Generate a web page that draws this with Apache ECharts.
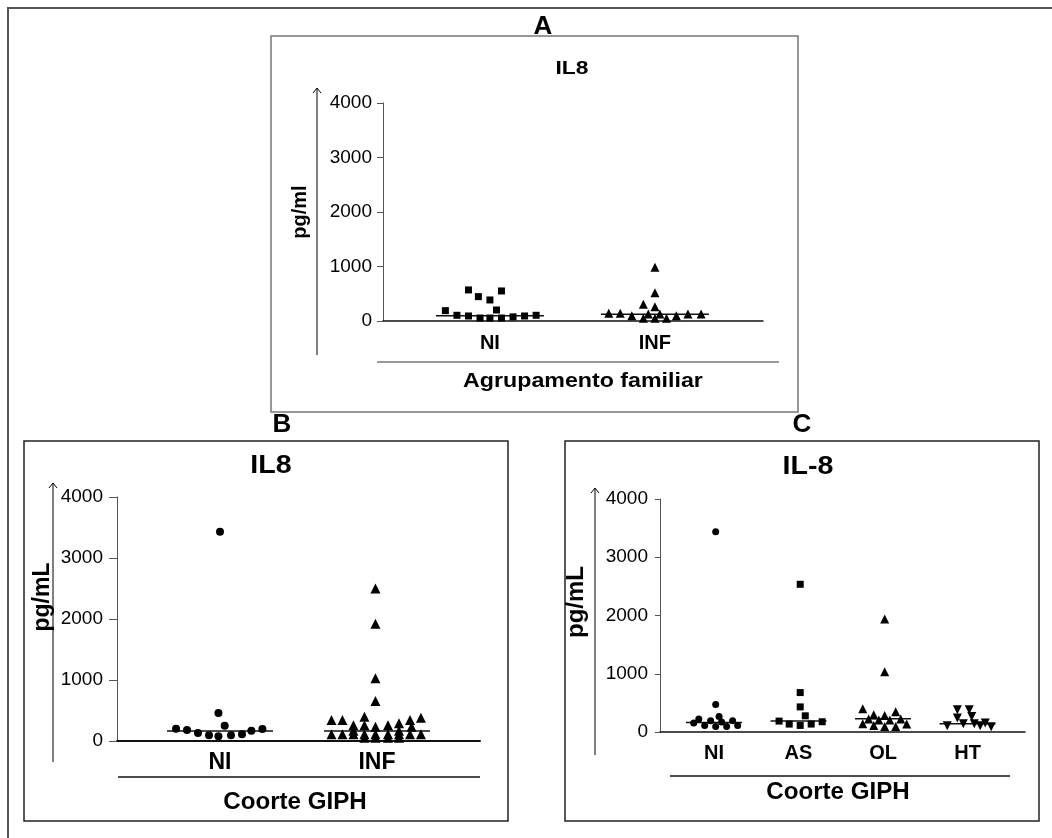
<!DOCTYPE html>
<html>
<head>
<meta charset="utf-8">
<script src="https://cdn.jsdelivr.net/npm/echarts@6/dist/echarts.min.js"></script>
<style>
html, body { margin: 0; padding: 0; background: #fff; }
#chart { width: 1052px; height: 838px; }
</style>
</head>
<body>
<div id="chart"></div>
<script>
// ---- data (IL8, pg/mL) ----
// jitter = horizontal spread of each point around its category (category units)
var yTicks = [0, 1000, 2000, 3000, 4000];

// A: Agrupamento familiar
var catsA = ['NI', 'INF'];
var aNiVal    = [190, 105, 92, 55, 55, 55, 76, 92, 105, 570, 447, 386, 551, 202];
var aNiJit    = [-0.27, -0.2, -0.13, -0.06, 0.0, 0.07, 0.14, 0.21, 0.28, -0.13, -0.07, 0.0, 0.07, 0.04];
var aInfVal   = [141, 141, 98, 307, 987, 520, 263, 50, 129, 50, 129, 50, 98, 129, 129];
var aInfJit   = [-0.28, -0.21, -0.14, -0.07, 0.0, 0.0, 0.0, -0.07, -0.04, 0.0, 0.03, 0.07, 0.13, 0.2, 0.28];
var aMedian   = [95, 125];

// B: Coorte GIPH
var catsB = ['NI', 'INF'];
var bNiVal    = [202, 180, 131, 93, 77, 93, 109, 169, 197, 459, 251, 3430];
var bNiJit    = [-0.28, -0.21, -0.14, -0.07, -0.01, 0.07, 0.14, 0.2, 0.27, -0.01, 0.03, 0.0];
var bInfVal   = [2500, 1923, 1028, 656, 235, 344, 344, 257, 398, 257, 257, 290, 344, 382, 235,
                 109, 109, 109, 109, 109, 109, 109, 109, 109, 55, 55, 55, 55, 170, 170];
var bInfJit   = [-0.01, -0.01, -0.01, -0.01, -0.01, -0.29, -0.22, -0.15, -0.08, -0.08, 0.07, 0.14, 0.21, 0.28, 0.22,
                 -0.29, -0.22, -0.15, -0.08, -0.01, 0.07, 0.14, 0.21, 0.28, -0.08, -0.01, 0.07, 0.14, -0.15, 0.14];
var bMedian   = [164, 164];

// C: Coorte GIPH by group
var catsC = ['NI', 'AS', 'OL', 'HT'];
var cNiVal    = [153, 222, 113, 193, 96, 266, 171, 96, 193, 113, 471, 3436];
var cNiJit    = [-0.24, -0.18, -0.11, -0.04, 0.02, 0.06, 0.09, 0.15, 0.22, 0.28, 0.02, 0.02];
var cAsVal    = [187, 136, 113, 278, 136, 176, 431, 677, 2536];
var cAsJit    = [-0.23, -0.11, 0.02, 0.08, 0.15, 0.28, 0.02, 0.02, 0.02];
var cOlVal    = [397, 141, 222, 295, 113, 204, 283, 96, 204, 346, 96, 222, 136, 1034, 1941];
var cOlJit    = [-0.24, -0.24, -0.17, -0.11, -0.11, -0.05, 0.02, 0.02, 0.08, 0.15, 0.15, 0.21, 0.28, 0.02, 0.02];
var cHtVal    = [108, 240, 382, 142, 382, 268, 142, 108, 154, 91];
var cHtJit    = [-0.24, -0.12, -0.12, -0.05, 0.02, 0.05, 0.08, 0.15, 0.21, 0.28];
var cMedian   = [165, 187, 227, 142];

// ---- chart ----
var FONT = '"Liberation Sans", Arial, sans-serif';
var chart = echarts.init(document.getElementById('chart'), null, { renderer: 'canvas' });

function pts(cat, jit, vals) {
    return vals.map(function (v, i) { return [cat + jit[i], v]; });
}

function dots(gi, cat, jit, vals, symbol, size, rotate) {
    return {
        type: 'scatter', xAxisIndex: gi, yAxisIndex: gi,
        data: pts(cat, jit, vals),
        symbol: symbol, symbolSize: size, symbolRotate: rotate || 0,
        itemStyle: { color: '#000', opacity: 1 }, z: 3
    };
}

function medians(gi, meds, halfW) {
    return {
        type: 'custom', xAxisIndex: gi, yAxisIndex: gi,
        data: meds.map(function (m, i) { return [i, m]; }),
        renderItem: function (params, api) {
            var p = api.coord([api.value(0), api.value(1)]);
            return {
                type: 'line',
                shape: { x1: p[0] - halfW, y1: p[1], x2: p[0] + halfW, y2: p[1] },
                style: { stroke: '#111', lineWidth: 1.5 }
            };
        },
        z: 2
    };
}

function xAx(gi, cats, min, max, fs, margin, lw) {
    return {
        gridIndex: gi, type: 'value', min: min, max: max,
        axisLine: { show: true, onZero: false, lineStyle: { color: '#111', width: lw } },
        axisTick: { show: false },
        splitLine: { show: false },
        axisLabel: {
            customValues: cats.map(function (c, i) { return i; }),
            formatter: function (v) { return cats[Math.round(v)]; },
            fontFamily: FONT, fontWeight: 'bold', fontSize: fs, color: '#000', margin: margin
        }
    };
}

function yAx(gi, fs, margin, tickLen) {
    return {
        gridIndex: gi, type: 'value', min: 0, max: 4000, interval: 1000,
        axisLine: { show: true, onZero: false, lineStyle: { color: '#555', width: 1 } },
        axisTick: { show: true, length: tickLen, lineStyle: { color: '#555' } },
        splitLine: { show: false },
        axisLabel: {
            customValues: yTicks,
            formatter: function (v) { return String(v); },
            fontFamily: FONT, fontSize: fs, color: '#000', margin: margin
        }
    };
}

function arrow(x, y1, y2) {
    return [
        { type: 'line', shape: { x1: x, y1: y1, x2: x, y2: y2 }, style: { stroke: '#000', lineWidth: 1 } },
        { type: 'polyline', shape: { points: [[x - 4, y1 + 5], [x, y1], [x + 4, y1 + 5]] },
          style: { stroke: '#000', lineWidth: 1, fill: null } }
    ];
}

function txt(x, y, s, font, rot, sx) {
    return {
        type: 'text', x: x, y: y, rotation: rot || 0, scaleX: sx || 1, z: 10,
        style: { text: s, font: font, fill: '#000', align: 'center', verticalAlign: 'middle' }
    };
}

function box(x1, y1, x2, y2, color, lw) {
    return { type: 'rect', shape: { x: x1, y: y1, width: x2 - x1, height: y2 - y1 },
             style: { stroke: color, lineWidth: lw, fill: null }, z: 0 };
}

function hline(x1, x2, y, color, lw) {
    return { type: 'line', shape: { x1: x1, y1: y, x2: x2, y2: y }, style: { stroke: color, lineWidth: lw } };
}

var graphics = [
    box(8, 8, 1140, 900, '#555', 2),
    box(271, 36, 798, 412, '#777', 1.5),
    box(24, 441, 508, 821, '#222', 1.5),
    box(565, 441, 1039, 821, '#222', 1.5),
    // panel letters
    { type: 'rect', shape: { x: 528, y: 16, width: 30, height: 19 }, style: { fill: '#fff' }, z: 5 },
    txt(543, 27, 'A', 'bold 26px ' + FONT),
    txt(282, 425, 'B', 'bold 26px ' + FONT),
    txt(802, 425, 'C', 'bold 26px ' + FONT),
    // titles
    txt(572, 69, 'IL8', 'bold 19px ' + FONT, 0, 1.2),
    txt(271, 466, 'IL8', 'bold 26px ' + FONT, 0, 1.1),
    txt(808, 467, 'IL-8', 'bold 26px ' + FONT, 0, 1.1),
    // y names
    txt(300, 212, 'pg/ml', 'bold 20px ' + FONT, Math.PI / 2),
    txt(43, 597, 'pg/mL', 'bold 23px ' + FONT, Math.PI / 2),
    txt(576, 602, 'pg/mL', 'bold 24px ' + FONT, Math.PI / 2),
    // group separators and names
    hline(377, 779, 362, '#777', 1.5),
    hline(118, 480, 777, '#111', 1.5),
    hline(670, 1010, 776, '#111', 1.5),
    txt(583, 381, 'Agrupamento familiar', 'bold 20px ' + FONT, 0, 1.16),
    txt(295, 803, 'Coorte GIPH', 'bold 23px ' + FONT, 0, 1.05),
    txt(838, 793, 'Coorte GIPH', 'bold 23px ' + FONT, 0, 1.05)
].concat(arrow(317, 88, 355), arrow(53, 483, 762), arrow(595, 488, 755));

var option = {
    backgroundColor: '#fff',
    animation: false,
    grid: [
        { left: 383, right: 1052 - 763, top: 103, bottom: 838 - 321 },
        { left: 117, right: 1052 - 480, top: 497, bottom: 838 - 741 },
        { left: 660, right: 1052 - 1025, top: 499, bottom: 838 - 732 }
    ],
    xAxis: [
        xAx(0, catsA, -0.648, 1.655, 20, 12, 1.5),
        xAx(1, catsB, -0.656, 1.656, 23, 10, 2),
        xAx(2, catsC, -0.639, 3.68, 20, 11, 1.5)
    ],
    yAxis: [
        yAx(0, 19, 11, 6),
        yAx(1, 19, 14, 8),
        yAx(2, 19, 12, 5)
    ],
    graphic: graphics,
    series: [
        dots(0, 0, aNiJit, aNiVal, 'rect', 7),
        dots(0, 1, aInfJit, aInfVal, 'triangle', 9),
        medians(0, aMedian, 54),
        dots(1, 0, bNiJit, bNiVal, 'circle', 8),
        dots(1, 1, bInfJit, bInfVal, 'triangle', 10),
        medians(1, bMedian, 53),
        dots(2, 0, cNiJit, cNiVal, 'circle', 7),
        dots(2, 1, cAsJit, cAsVal, 'rect', 7),
        dots(2, 2, cOlJit, cOlVal, 'triangle', 9),
        dots(2, 3, cHtJit, cHtVal, 'triangle', 9, 180),
        medians(2, cMedian, 28)
    ]
};
chart.setOption(option);
</script>
</body>
</html>
